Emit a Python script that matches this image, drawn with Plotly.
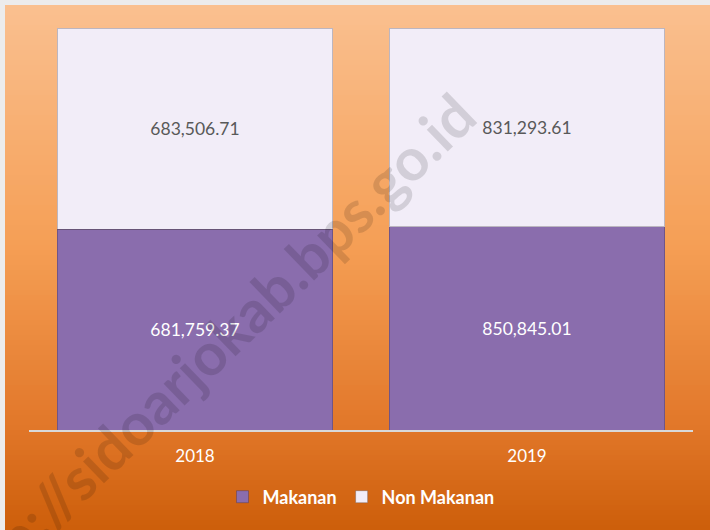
import plotly.graph_objects as go

# data
years = ["2018", "2019"]
makanan = [681759.37, 850845.01]
non_makanan = [683506.71, 831293.61]
series_names = ["Makanan", "Non Makanan"]

W, H = 710, 530
L, R, T, B = 29, 17, 28, 100
pw, ph = W - L - R, H - T - B


def px_x(p):
    return (p - L) / pw


def px_y(p):
    return (H - B - p) / ph


# orange vertical gradient for the background (built from thin strips)
stops = [(5, (250, 192, 144)), (250, (245, 158, 84)), (430, (225, 118, 40)), (530, (204, 94, 10))]


def col_at(p):
    for (a, ca), (b, cb) in zip(stops[:-1], stops[1:]):
        if p <= b:
            t = (p - a) / (b - a)
            return tuple(int(round(ca[i] + (cb[i] - ca[i]) * t)) for i in range(3))
    return stops[-1][1]


shapes = []
step = 5
for p in range(5, 530, step):
    c = col_at(p + step / 2)
    shapes.append(dict(type="rect", xref="paper", yref="paper", layer="below",
                       x0=px_x(5), x1=px_x(W), y0=px_y(p + step), y1=px_y(p),
                       fillcolor="rgb(%d,%d,%d)" % c, line_width=0))

fig = go.Figure()
fig.add_trace(go.Bar(
    x=years, y=makanan, name=series_names[0],
    marker=dict(color="#8A6DAD", line=dict(color="rgba(70,50,80,0.4)", width=1)),
    text=["{:,.2f}".format(v) for v in makanan],
    textposition="inside", insidetextanchor="middle",
    textfont=dict(color="white", size=17.5, family="Lato"),
))
fig.add_trace(go.Bar(
    x=years, y=non_makanan, name=series_names[1],
    marker=dict(color="#F2EDF8", line=dict(color="rgba(90,80,90,0.35)", width=1)),
    text=["{:,.2f}".format(v) for v in non_makanan],
    textposition="inside", insidetextanchor="middle",
    textfont=dict(color="#595959", size=17.5, family="Lato"),
))

fig.update_layout(
    width=W, height=H,
    margin=dict(l=L, r=R, t=T, b=B),
    barmode="stack", barnorm="percent", bargap=0.17,
    paper_bgcolor="#ECECEC", plot_bgcolor="rgba(0,0,0,0)",
    shapes=shapes,
    showlegend=True,
    legend=dict(orientation="h", x=0.5, xanchor="center", y=px_y(497), yanchor="middle",
                font=dict(color="white", size=18, family="Lato", weight="bold"),
                bgcolor="rgba(0,0,0,0)", traceorder="normal", itemwidth=30),
    xaxis=dict(showgrid=False, showline=True, linecolor="#D9D9D9", linewidth=2,
               tickfont=dict(color="white", size=17, family="Lato"),
               ticklabelstandoff=10, fixedrange=True),
    yaxis=dict(range=[0, 100], visible=False, showgrid=False, zeroline=False),
    annotations=[dict(text="http://sidoarjokab.bps.go.id", xref="paper", yref="paper",
                      x=px_x(207), y=px_y(352), xanchor="center", yanchor="middle",
                      textangle=-44, showarrow=False,
                      font=dict(size=59, family="Lato", weight="bold", color="rgba(0,0,0,0.13)"))],
)

fig.write_html("out.html", config={"displayModeBar": False},
               post_script="document.body.style.margin='0';")
